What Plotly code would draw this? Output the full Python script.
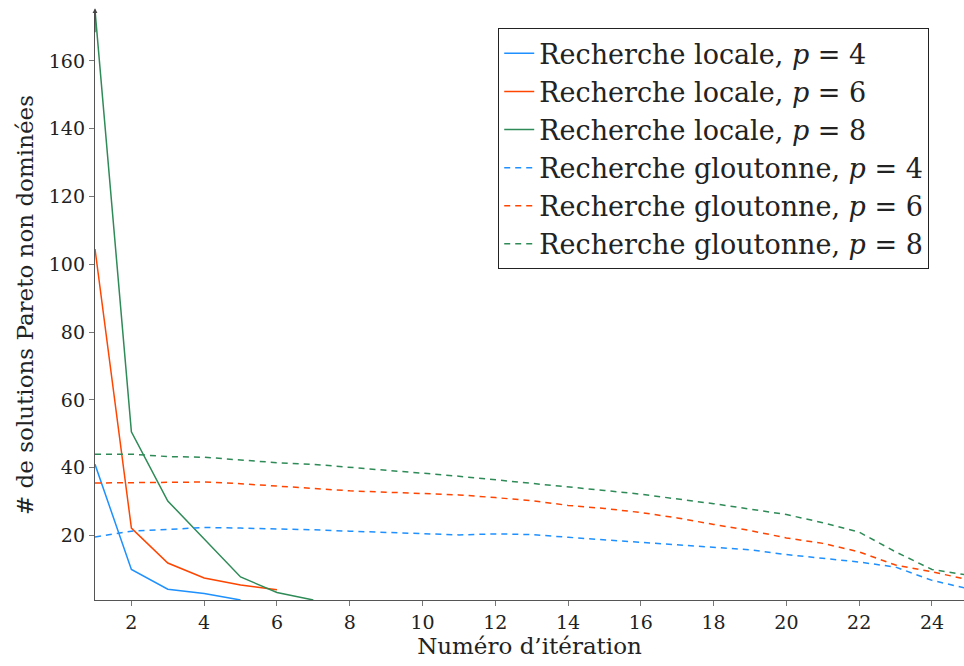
import plotly.graph_objects as go

iterations = list(range(1, 26))

local_p4_x = [1, 2, 3, 4, 5]
local_p4 = [41, 10, 4.2, 2.9, 1]
local_p6_x = [1, 2, 3, 4, 5, 6]
local_p6 = [104.5, 22.2, 11.9, 7.5, 5.4, 4.0]
local_p8_x = [1, 2, 3, 4, 5, 6, 7]
local_p8 = [175, 50.6, 30.2, 18.9, 7.8, 3.2, 1]

greedy_p4 = [19.6, 21.3, 21.8, 22.4, 22.2, 22.0, 21.7, 21.3, 20.9, 20.4, 20.2, 20.5, 20.3,
             19.5, 18.8, 18.0, 17.3, 16.7, 15.8, 14.4, 13.3, 12.2, 10.7, 6.8, 4.3]
greedy_p6 = [35.5, 35.6, 35.9, 35.8, 35.3, 34.6, 33.8, 33.2, 32.8, 32.4, 32.0, 31.2, 30.3,
             28.9, 28.0, 26.8, 25.2, 23.3, 21.5, 19.3, 17.7, 15.2, 11.3, 9.3, 7.0]
greedy_p8 = [44.0, 44.0, 43.3, 43.1, 42.3, 41.5, 41.0, 40.2, 39.3, 38.4, 37.5, 36.5, 35.5,
             34.4, 33.3, 32.2, 30.9, 29.4, 27.8, 26.2, 23.8, 21.0, 15.2, 10.0, 8.3]

x_ticks = [2, 4, 6, 8, 10, 12, 14, 16, 18, 20, 22, 24]
y_ticks = [20, 40, 60, 80, 100, 120, 140, 160]

BLUE = "#1E90FF"
ORANGE = "#FF4500"
GREEN = "#2E8B57"

fig = go.Figure()
series = [
    (local_p4_x, local_p4, BLUE, "solid", "Recherche locale, <i>p</i> = 4"),
    (local_p6_x, local_p6, ORANGE, "solid", "Recherche locale, <i>p</i> = 6"),
    (local_p8_x, local_p8, GREEN, "solid", "Recherche locale, <i>p</i> = 8"),
    (iterations, greedy_p4, BLUE, "dash", "Recherche gloutonne, <i>p</i> = 4"),
    (iterations, greedy_p6, ORANGE, "dash", "Recherche gloutonne, <i>p</i> = 6"),
    (iterations, greedy_p8, GREEN, "dash", "Recherche gloutonne, <i>p</i> = 8"),
]
for xs, ys, col, dash, name in series:
    fig.add_trace(go.Scatter(x=xs, y=ys, mode="lines", name=name,
                             line=dict(color=col, width=1.5, dash="solid" if dash == "solid" else "6px,5px")))

font_family = "DejaVu Serif"

fig.add_annotation(x=1, y=175.5, ax=1, ay=168, xref="x", yref="y", axref="x", ayref="y",
                   showarrow=True, arrowhead=2, arrowsize=0.8, arrowwidth=1.2,
                   arrowcolor="#444", text="")

fig.update_layout(
    width=964, height=666,
    margin=dict(l=95, r=0, t=10, b=66),
    paper_bgcolor="white", plot_bgcolor="white",
    font=dict(family=font_family, color="#222", size=19),
    showlegend=True,
    legend=dict(x=0.464, y=0.969, xanchor="left", yanchor="top",
                bordercolor="#222", borderwidth=1, bgcolor="white",
                font=dict(size=27, family=font_family),
                tracegroupgap=0, itemwidth=30),
    xaxis=dict(range=[1, 24.88], tickvals=x_ticks, showgrid=False, zeroline=False,
               automargin=False,
               showline=True, linecolor="#555", linewidth=1.3,
               ticks="outside", ticklen=5, tickcolor="#777",
               title=dict(text="Numéro d’itération", font=dict(size=23), standoff=4)),
    yaxis=dict(range=[1, 175], tickvals=y_ticks, showgrid=False, zeroline=False,
               automargin=False,
               showline=True, linecolor="#555", linewidth=1.3,
               ticks="outside", ticklen=5, tickcolor="#777",
               title=dict(text="# de solutions Pareto non dominées", font=dict(size=23), standoff=8)),
)

fig.write_html("out.html", config={"displayModeBar": False},
               post_script="document.body.style.margin='0';document.body.style.overflow='hidden';")
